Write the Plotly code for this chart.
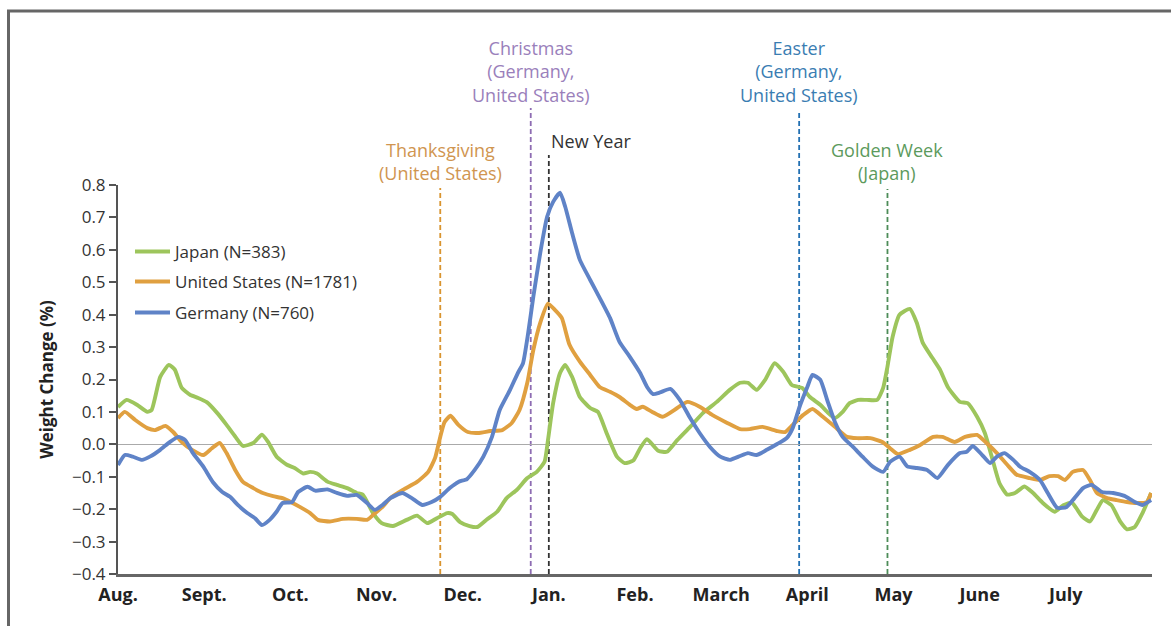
import plotly.graph_objects as go

# ---- data (x in months since Aug 1; y = weight change %) ----
month_labels = ["Aug.", "Sept.", "Oct.", "Nov.", "Dec.", "Jan.", "Feb.", "March", "April", "May", "June", "July"]
month_ticks = [0, 1, 2, 3, 4, 5, 6, 7, 8, 9, 10, 11]

japan_x = [0, 0.10, 0.22, 0.34, 0.39, 0.49, 0.59, 0.66, 0.74, 0.84, 0.93, 1.03, 1.15, 1.26, 1.36, 1.45, 1.57, 1.67, 1.74, 1.84,
           1.96, 2.05, 2.15, 2.23, 2.31, 2.43, 2.54, 2.66, 2.77, 2.84, 2.96, 3.06, 3.19, 3.35, 3.47, 3.59, 3.70, 3.82, 3.88, 3.97,
           4.08, 4.17, 4.28, 4.40, 4.51, 4.63, 4.75, 4.86, 4.95, 4.99, 5.05, 5.13, 5.19, 5.27, 5.36, 5.48, 5.57, 5.67, 5.79, 5.88,
           5.98, 6.06, 6.14, 6.27, 6.37, 6.49, 6.64, 6.79, 6.95, 7.10, 7.22, 7.31, 7.41, 7.51, 7.62, 7.72, 7.82, 7.94, 8.03, 8.15,
           8.23, 8.32, 8.41, 8.49, 8.59, 8.69, 8.81, 8.88, 8.93, 8.99, 9.07, 9.19, 9.27, 9.34, 9.45, 9.54, 9.63, 9.77, 9.86, 9.97,
           10.06, 10.14, 10.23, 10.32, 10.41, 10.52, 10.62, 10.73, 10.87, 10.97, 11.07, 11.19, 11.28, 11.36, 11.43, 11.53, 11.63,
           11.71, 11.80, 11.89, 11.99]
japan_y = [0.115, 0.137, 0.122, 0.100, 0.106, 0.208, 0.245, 0.230, 0.174, 0.152, 0.143, 0.130, 0.097, 0.060, 0.024, -0.005,
           0.004, 0.030, 0.008, -0.038, -0.063, -0.073, -0.090, -0.085, -0.090, -0.115, -0.125, -0.135, -0.150, -0.155, -0.212,
           -0.243, -0.252, -0.233, -0.220, -0.243, -0.228, -0.212, -0.215, -0.240, -0.252, -0.255, -0.232, -0.208, -0.166,
           -0.140, -0.104, -0.085, -0.054, 0.013, 0.127, 0.220, 0.245, 0.208, 0.146, 0.112, 0.100, 0.035, -0.038, -0.058,
           -0.050, -0.012, 0.016, -0.020, -0.023, 0.013, 0.054, 0.097, 0.131, 0.168, 0.190, 0.190, 0.168, 0.199, 0.250, 0.224,
           0.183, 0.174, 0.146, 0.122, 0.100, 0.081, 0.100, 0.127, 0.137, 0.137, 0.137, 0.174, 0.240, 0.332, 0.400, 0.418,
           0.375, 0.313, 0.267, 0.230, 0.177, 0.131, 0.127, 0.085, 0.035, -0.038, -0.120, -0.155, -0.150, -0.130, -0.150,
           -0.180, -0.208, -0.188, -0.180, -0.223, -0.238, -0.202, -0.172, -0.188, -0.238, -0.262, -0.255, -0.212, -0.150]

us_x = [0, 0.08, 0.20, 0.34, 0.43, 0.55, 0.64, 0.74, 0.86, 0.99, 1.09, 1.18, 1.26, 1.36, 1.45, 1.57, 1.68, 1.80, 1.91, 2.02,
        2.11, 2.23, 2.32, 2.46, 2.61, 2.77, 2.89, 2.96, 3.07, 3.16, 3.31, 3.47, 3.60, 3.68, 3.74, 3.79, 3.86, 3.95, 4.06, 4.18,
        4.32, 4.46, 4.57, 4.66, 4.75, 4.82, 4.90, 4.99, 5.07, 5.15, 5.24, 5.36, 5.48, 5.59, 5.71, 5.82, 5.94, 6.02, 6.09, 6.20,
        6.32, 6.49, 6.61, 6.75, 6.90, 7.07, 7.22, 7.33, 7.48, 7.65, 7.74, 7.83, 7.95, 8.06, 8.18, 8.32, 8.46, 8.58, 8.73, 8.87,
        8.96, 9.05, 9.19, 9.31, 9.46, 9.57, 9.71, 9.83, 9.97, 10.08, 10.20, 10.32, 10.43, 10.58, 10.70, 10.81, 10.91, 10.99,
        11.08, 11.20, 11.28, 11.36, 11.48, 11.59, 11.71, 11.82, 11.94, 11.99]
us_y = [0.081, 0.100, 0.075, 0.050, 0.044, 0.057, 0.038, 0.007, -0.017, -0.033, -0.012, 0.004, -0.027, -0.079, -0.116, -0.135,
        -0.150, -0.160, -0.166, -0.180, -0.193, -0.212, -0.233, -0.238, -0.230, -0.230, -0.233, -0.218, -0.193, -0.166, -0.140,
        -0.116, -0.085, -0.042, 0.023, 0.069, 0.088, 0.060, 0.038, 0.035, 0.041, 0.044, 0.066, 0.106, 0.190, 0.291, 0.375,
        0.434, 0.415, 0.390, 0.307, 0.255, 0.214, 0.177, 0.162, 0.146, 0.122, 0.109, 0.116, 0.100, 0.085, 0.112, 0.131, 0.116,
        0.090, 0.066, 0.047, 0.047, 0.054, 0.041, 0.038, 0.060, 0.090, 0.109, 0.085, 0.054, 0.023, 0.019, 0.019, 0.007,
        -0.012, -0.030, -0.017, -0.002, 0.023, 0.023, 0.007, 0.023, 0.029, 0.004, -0.027, -0.063, -0.094, -0.104, -0.110,
        -0.098, -0.098, -0.110, -0.085, -0.079, -0.110, -0.150, -0.166, -0.172, -0.178, -0.181, -0.178, -0.150]

germany_x = [0, 0.08, 0.17, 0.28, 0.37, 0.49, 0.60, 0.70, 0.78, 0.87, 0.99, 1.10, 1.21, 1.30, 1.39, 1.50, 1.59, 1.67, 1.76,
             1.84, 1.91, 2.02, 2.09, 2.20, 2.29, 2.43, 2.54, 2.66, 2.77, 2.89, 2.98, 3.07, 3.16, 3.30, 3.41, 3.53, 3.64, 3.74,
             3.85, 3.95, 4.05, 4.14, 4.24, 4.34, 4.43, 4.55, 4.64, 4.70, 4.76, 4.82, 4.90, 4.98, 5.05, 5.13, 5.19, 5.27, 5.36,
             5.48, 5.59, 5.71, 5.82, 5.94, 6.06, 6.14, 6.21, 6.29, 6.41, 6.52, 6.64, 6.75, 6.87, 6.99, 7.10, 7.22, 7.31, 7.41,
             7.53, 7.65, 7.76, 7.83, 7.91, 8.00, 8.06, 8.15, 8.23, 8.32, 8.41, 8.53, 8.64, 8.76, 8.88, 8.96, 9.07, 9.16, 9.27,
             9.39, 9.51, 9.63, 9.77, 9.85, 9.92, 10.03, 10.12, 10.20, 10.29, 10.39, 10.47, 10.58, 10.70, 10.79, 10.90, 11.01,
             11.10, 11.20, 11.30, 11.42, 11.55, 11.68, 11.80, 11.89, 11.99]
germany_y = [-0.064, -0.033, -0.038, -0.048, -0.038, -0.017, 0.007, 0.023, 0.013, -0.027, -0.069, -0.116, -0.147, -0.162,
             -0.187, -0.212, -0.228, -0.249, -0.233, -0.208, -0.181, -0.178, -0.147, -0.131, -0.143, -0.139, -0.150, -0.159,
             -0.156, -0.181, -0.202, -0.187, -0.166, -0.150, -0.166, -0.187, -0.178, -0.162, -0.135, -0.116, -0.107, -0.079,
             -0.038, 0.023, 0.106, 0.168, 0.220, 0.250, 0.343, 0.455, 0.590, 0.702, 0.748, 0.776, 0.733, 0.652, 0.569, 0.507,
             0.452, 0.390, 0.316, 0.270, 0.220, 0.177, 0.155, 0.160, 0.171, 0.137, 0.081, 0.035, -0.008, -0.038, -0.048,
             -0.036, -0.027, -0.033, -0.017, 0.001, 0.019, 0.050, 0.116, 0.177, 0.214, 0.199, 0.137, 0.069, 0.023, -0.008,
             -0.038, -0.069, -0.085, -0.054, -0.038, -0.068, -0.073, -0.079, -0.104, -0.064, -0.027, -0.023, -0.005, -0.033,
             -0.058, -0.038, -0.027, -0.048, -0.069, -0.085, -0.110, -0.150, -0.196, -0.193, -0.166, -0.135, -0.125, -0.147,
             -0.150, -0.159, -0.178, -0.187, -0.172]

series_names = ["Japan (N=383)", "United States (N=1781)", "Germany (N=760)"]
series_colors = ["#9dc55c", "#e0a040", "#5f83c7"]

event_labels = ["Thanksgiving<br>(United States)", "Christmas<br>(Germany,<br>United States)", "New Year",
                "Easter<br>(Germany,<br>United States)", "Golden Week<br>(Japan)"]
event_x = [3.74, 4.79, 5.0, 7.905, 8.93]
event_text_colors = ["#d09550", "#9a80bb", "#333333", "#3a7db2", "#5c9a5c"]
event_line_colors = ["#d9942e", "#8e6cb2", "#333333", "#2370b2", "#4d8c58"]

# ---- layout geometry ----
plot_left, plot_right, plot_top, plot_bottom = 118, 1152, 185, 574
W, H = 1171, 626
pw, ph = plot_right - plot_left, plot_bottom - plot_top


def px_x(px):
    return (px - plot_left) / pw


def px_y(py):
    return (plot_bottom - py) / ph


line_tops = [188, 108, 155, 110, 189]
label_centers = [161.5, 71, 141, 71, 161.5]
label_anchor = ["center", "center", "left", "center", "center"]
legend_row_centers = [251, 281, 312]
legend_ids = ["legend", "legend2", "legend3"]

fig = go.Figure()
for xs, ys, name, color, lg in zip([japan_x, us_x, germany_x], [japan_y, us_y, germany_y], series_names,
                                   series_colors, legend_ids):
    fig.add_trace(go.Scatter(x=xs, y=ys, mode="lines", name=name, legend=lg,
                             line=dict(color=color, width=3.9, shape="spline", smoothing=0.5)))

shapes = []
annotations = []
for lbl, ex, tc, lc, top, cy, anc in zip(event_labels, event_x, event_text_colors, event_line_colors,
                                         line_tops, label_centers, label_anchor):
    shapes.append(dict(type="line", xref="x", yref="paper", x0=ex, x1=ex, y0=0, y1=px_y(top),
                       line=dict(color=lc, width=1.8, dash="5px,3px"), layer="below"))
    annotations.append(dict(text=lbl, xref="x", yref="paper", x=ex, y=px_y(cy), xanchor=anc, yanchor="middle",
                            showarrow=False, align="center", font=dict(color=tc, size=18, family="Open Sans")))

# frame lines
shapes.append(dict(type="line", xref="paper", yref="paper", x0=px_x(7), x1=px_x(W), y0=px_y(11), y1=px_y(11),
                   line=dict(color="#666666", width=3)))
shapes.append(dict(type="line", xref="paper", yref="paper", x0=px_x(8.5), x1=px_x(8.5), y0=px_y(10), y1=px_y(W),
                   line=dict(color="#666666", width=3)))

legend_layouts = {}
for lg, cy in zip(legend_ids, legend_row_centers):
    legend_layouts[lg] = dict(x=px_x(130), y=px_y(cy - 17), xanchor="left", yanchor="top",
                              bgcolor="rgba(0,0,0,0)", itemwidth=35,
                              font=dict(size=17, color="#333333", family="Open Sans"))

fig.update_layout(
    width=W, height=H,
    margin=dict(l=plot_left, r=W - plot_right, t=plot_top, b=H - plot_bottom, autoexpand=False),
    paper_bgcolor="white", plot_bgcolor="white",
    font=dict(family="Open Sans", color="#333333"),
    showlegend=True,
    shapes=shapes, annotations=annotations,
    xaxis=dict(range=[0, 12], tickvals=month_ticks, ticktext=month_labels, showgrid=False, zeroline=False,
               showline=True, linecolor="#666666", linewidth=2.5, ticks="",
               tickfont=dict(size=18, color="#222222", family="Open Sans", weight="bold"),
               ticklabelstandoff=3, fixedrange=True),
    yaxis=dict(range=[-0.4, 0.8], tickvals=[-0.4, -0.3, -0.2, -0.1, 0.0, 0.1, 0.2, 0.3, 0.4, 0.5, 0.6, 0.7, 0.8],
               tickformat=".1f", showgrid=False, zeroline=True, zerolinecolor="#aaaaaa", zerolinewidth=1.2,
               showline=True, linecolor="#555555", linewidth=2, ticks="outside", ticklen=7, tickwidth=1.5,
               tickcolor="#555555", tickfont=dict(size=17, color="#333333", family="Open Sans"),
               title=dict(text="Weight Change (%)", font=dict(size=17, color="#222222", family="Open Sans", weight="bold"),
                          standoff=14),
               fixedrange=True),
    **legend_layouts,
)

fig.write_html("out.html")
